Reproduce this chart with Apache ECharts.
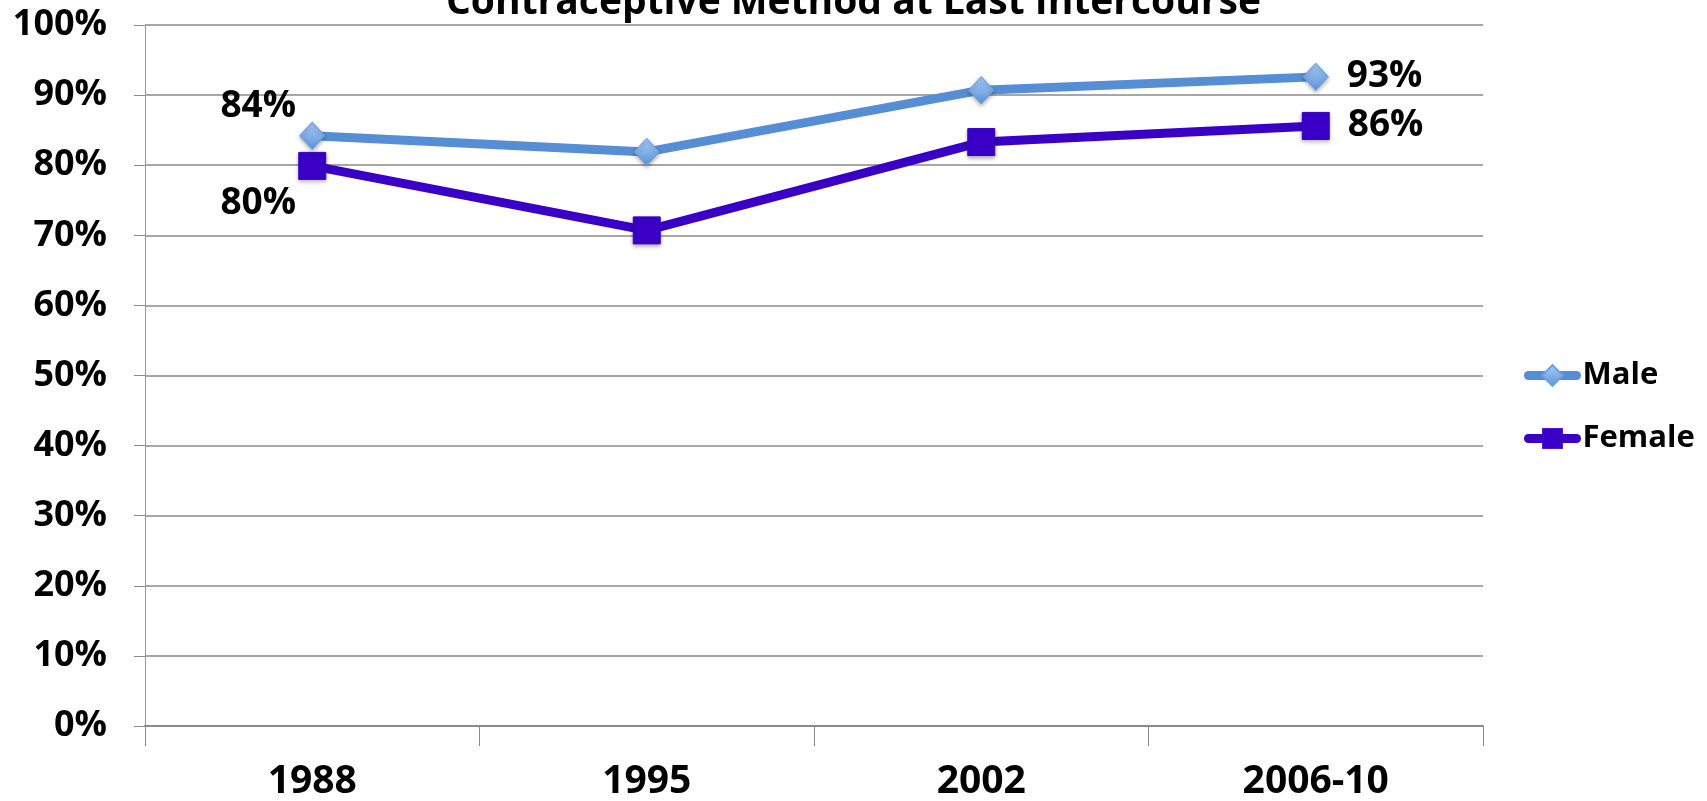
<!DOCTYPE html>
<html>
<head>
<meta charset="utf-8">
<script src="https://cdn.jsdelivr.net/npm/echarts@6/dist/echarts.min.js"></script>
<style>
  html, body { margin: 0; padding: 0; background: #fff; }
  #chart { width: 1707px; height: 801px; }
</style>
</head>
<body>
<div id="chart"></div>
<script>
// survey years
var years = ['1988', '1995', '2002', '2006-10'];

// percent using a contraceptive method at last intercourse
var maleValues = [84.2, 81.9, 90.7, 92.6];
var femaleValues = [79.9, 70.7, 83.3, 85.6];

// which points carry a value label
var labelIndex = [0, 3];

function withLabels(values, firstLabel, lastLabel) {
    var out = [];
    for (var i = 0; i < values.length; i++) {
        var item = { value: values[i] };
        if (i === labelIndex[0]) item.label = firstLabel;
        if (i === labelIndex[1]) item.label = lastLabel;
        out.push(item);
    }
    return out;
}

var labelFont = {
    show: true,
    fontFamily: 'Open Sans',
    fontWeight: 'bold',
    fontSize: 37,
    color: '#000',
    formatter: function (p) { return Math.round(p.value) + '%'; }
};

var chart = echarts.init(document.getElementById('chart'));

var option = {
    animation: false,
    title: {
        text: 'Contraceptive Method at Last Intercourse',
        left: 'center',
        top: -22,
        textStyle: {
            fontFamily: 'Open Sans',
            fontWeight: 'bold',
            fontSize: 39,
            color: '#000'
        }
    },
    legend: {
        orient: 'vertical',
        left: 1519,
        top: 355,
        itemWidth: 48,
        itemHeight: 26,
        itemGap: 32,
        lineStyle: { width: 9, cap: 'round' },
        textStyle: {
            fontFamily: 'Open Sans',
            fontWeight: 'bold',
            fontSize: 31,
            color: '#000',
            padding: [0, 0, 0, 1]
        },
        data: ['Male', 'Female']
    },
    grid: {
        left: 145,
        right: 224,
        top: 25,
        bottom: 73
    },
    xAxis: {
        type: 'category',
        data: years,
        boundaryGap: true,
        axisLine: { lineStyle: { color: '#8a8a8a', width: 2 } },
        axisTick: { show: true, length: 20, lineStyle: { color: '#8a8a8a', width: 1 } },
        axisLabel: {
            margin: 36,
            fontFamily: 'Open Sans',
            fontWeight: 'bold',
            fontSize: 39,
            color: '#000'
        }
    },
    yAxis: {
        type: 'value',
        min: 0,
        max: 100,
        interval: 10,
        axisLine: { show: true, lineStyle: { color: '#9a9a9a', width: 1 } },
        axisTick: { show: true, length: 11, lineStyle: { color: '#8a8a8a' } },
        splitLine: { lineStyle: { color: '#8a8a8a', width: 1.5 } },
        axisLabel: {
            margin: 38,
            fontFamily: 'Open Sans',
            fontWeight: 'bold',
            fontSize: 36,
            color: '#000',
            formatter: '{value}%'
        }
    },
    series: [
        {
            name: 'Male',
            type: 'line',
            data: withLabels(maleValues,
                Object.assign({}, labelFont, { position: 'top', offset: [-54, 8] }),
                Object.assign({}, labelFont, { position: 'right', distance: 18 })),
            symbol: 'diamond',
            symbolSize: [25, 27],
            lineStyle: { color: '#558ed5', width: 9 },
            itemStyle: {
                color: new echarts.graphic.LinearGradient(0, 0, 0, 1, [
                    { offset: 0, color: '#a9cbf5' },
                    { offset: 1, color: '#5d95da' }
                ]),
                borderColor: '#6b9fe0',
                borderWidth: 1,
                shadowColor: 'rgba(0,0,0,0.3)',
                shadowBlur: 4,
                shadowOffsetY: 2
            },
            z: 3
        },
        {
            name: 'Female',
            type: 'line',
            data: withLabels(femaleValues,
                Object.assign({}, labelFont, { position: 'bottom', offset: [-54, 0] }),
                Object.assign({}, labelFont, { position: 'right', distance: 18 })),
            symbol: 'rect',
            symbolSize: 27,
            lineStyle: { color: '#3a00c8', width: 9 },
            itemStyle: {
                color: '#3a00c8',
                borderColor: '#3a00c8',
                shadowColor: 'rgba(0,0,0,0.3)',
                shadowBlur: 4,
                shadowOffsetY: 2
            },
            z: 2
        }
    ]
};

chart.setOption(option);
</script>
</body>
</html>
